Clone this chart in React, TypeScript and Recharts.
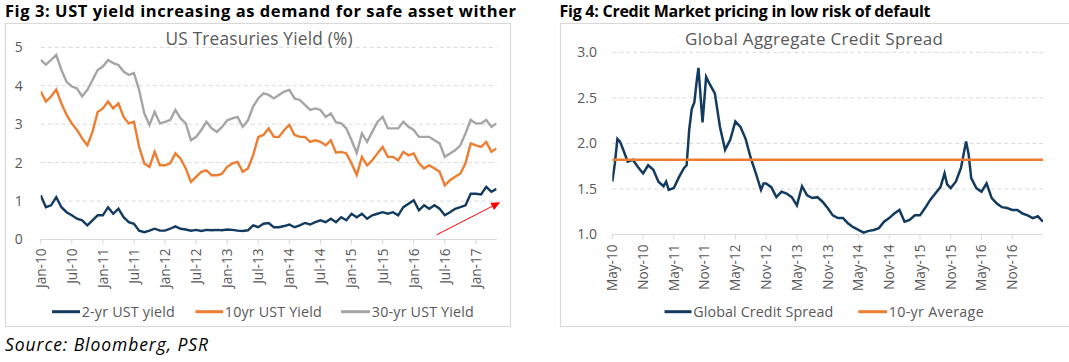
import React from 'react';
import { LineChart, Line, XAxis, YAxis, CartesianGrid, ReferenceLine } from 'recharts';

// ---------- Fig 3 data (monthly, month 0 = Jan-10) ----------
const ust2yr = [
  1.15, 0.84, 0.89, 1.1, 0.84, 0.71, 0.63, 0.54, 0.5, 0.37, 0.5, 0.63,
  0.63, 0.84, 0.67, 0.8, 0.58, 0.45, 0.41, 0.23, 0.19, 0.23, 0.28, 0.23,
  0.23, 0.28, 0.34, 0.28, 0.26, 0.23, 0.25, 0.22, 0.25, 0.24, 0.25, 0.24,
  0.26, 0.25, 0.23, 0.22, 0.24, 0.37, 0.32, 0.41, 0.43, 0.32, 0.32, 0.35,
  0.39, 0.32, 0.37, 0.43, 0.39, 0.45, 0.5, 0.45, 0.54, 0.45, 0.58, 0.5,
  0.67, 0.58, 0.67, 0.54, 0.63, 0.67, 0.71, 0.67, 0.71, 0.63, 0.84, 0.93,
  1.02, 0.76, 0.89, 0.8, 0.89, 0.8, 0.63, 0.71, 0.8, 0.84, 0.89, 1.19,
  1.19, 1.17, 1.37, 1.24, 1.32,
];
const ust10yr = [
  3.85, 3.59, 3.72, 3.9, 3.54, 3.24, 3.02, 2.85, 2.63, 2.45, 2.8, 3.32,
  3.41, 3.59, 3.41, 3.54, 3.19, 3.02, 3.06, 2.41, 1.98, 1.89, 2.28, 1.93,
  1.93, 1.98, 2.24, 2.1, 1.85, 1.5, 1.63, 1.76, 1.8, 1.67, 1.67, 1.71,
  1.89, 1.98, 2.02, 1.76, 1.85, 2.19, 2.67, 2.72, 2.89, 2.67, 2.67, 2.85,
  2.98, 2.72, 2.67, 2.67, 2.54, 2.58, 2.54, 2.45, 2.58, 2.26, 2.28, 2.24,
  1.98, 1.68, 2.15, 1.93, 2.06, 2.24, 2.41, 2.15, 2.15, 2.06, 2.28, 2.19,
  2.24, 1.98, 1.85, 1.93, 1.85, 1.76, 1.41, 1.54, 1.63, 1.71, 1.98, 2.5,
  2.45, 2.41, 2.54, 2.28, 2.37,
];
const ust30yr = [
  4.67, 4.55, 4.67, 4.8, 4.41, 4.1, 3.98, 3.93, 3.72, 3.89, 4.15, 4.41,
  4.5, 4.67, 4.59, 4.54, 4.37, 4.28, 4.33, 3.89, 3.28, 2.98, 3.32, 3.02,
  3.06, 3.11, 3.37, 3.15, 3.02, 2.58, 2.67, 2.85, 3.06, 2.89, 2.8, 2.93,
  3.1, 3.15, 3.19, 2.93, 3.1, 3.46, 3.67, 3.8, 3.76, 3.67, 3.76, 3.85,
  3.89, 3.67, 3.63, 3.5, 3.37, 3.41, 3.37, 3.19, 3.28, 3.05, 3.02, 2.89,
  2.58, 2.25, 2.76, 2.54, 2.8, 3.06, 3.19, 2.89, 2.89, 2.89, 3.06, 2.93,
  2.85, 2.67, 2.67, 2.67, 2.58, 2.5, 2.15, 2.24, 2.32, 2.45, 2.76, 3.11,
  3.02, 3.02, 3.11, 2.93, 3.02,
];
const ustTickMonths = [0, 6, 12, 18, 24, 30, 36, 42, 48, 54, 60, 66, 72, 78, 84];
const ustTickLabels = [
  'Jan-10', 'Jul-10', 'Jan-11', 'Jul-11', 'Jan-12', 'Jul-12', 'Jan-13', 'Jul-13',
  'Jan-14', 'Jul-14', 'Jan-15', 'Jul-15', 'Jan-16', 'Jul-16', 'Jan-17',
];
const ustYTicks = [0, 1, 2, 3, 4, 5];

// ---------- Fig 4 data (month 0 = May-10) ----------
const spreadMonths = [
  0, 0.5, 1, 1.5, 2, 3, 4, 5, 6, 7, 8, 9, 10, 10.5, 11, 12, 13, 14, 14.5, 15,
  15.5, 16, 16.5, 16.8, 17.6, 18.3, 19, 20, 21, 22, 23, 24, 25, 26, 27, 28, 29,
  29.5, 30, 31, 32, 33, 34, 35, 36, 37, 38, 39, 40, 41, 42, 43, 44, 45, 46, 47,
  48, 49, 50, 51, 52, 53, 54, 55, 56, 57, 58, 59, 60, 61, 62, 63, 64, 64.8,
  65.3, 66, 67, 68, 69, 69.5, 70, 71, 72, 73, 74, 75, 76, 77, 78, 79, 80, 81,
  82, 83, 84,
];
const spreadValues = [
  1.58, 1.78, 2.05, 2.02, 1.95, 1.8, 1.82, 1.74, 1.67, 1.76, 1.71, 1.58, 1.53,
  1.58, 1.49, 1.51, 1.63, 1.73, 1.76, 2.15, 2.38, 2.45, 2.7, 2.83, 2.23, 2.73,
  2.65, 2.55, 2.18, 1.93, 2.04, 2.24, 2.18, 2.05, 1.84, 1.67, 1.49, 1.56, 1.56,
  1.52, 1.41, 1.47, 1.45, 1.41, 1.32, 1.53, 1.43, 1.4, 1.41, 1.36, 1.29, 1.21,
  1.18, 1.18, 1.12, 1.08, 1.05, 1.02, 1.04, 1.05, 1.07, 1.14, 1.18, 1.23, 1.27,
  1.14, 1.16, 1.21, 1.21, 1.29, 1.38, 1.45, 1.52, 1.67, 1.55, 1.51, 1.58, 1.73,
  2.02, 1.88, 1.62, 1.51, 1.47, 1.56, 1.4, 1.34, 1.3, 1.29, 1.27, 1.27, 1.23,
  1.21, 1.18, 1.2, 1.14,
];
const spreadAverage = 1.82;
const spreadTickMonths = [0, 6, 12, 18, 24, 30, 36, 42, 48, 54, 60, 66, 72, 78];
const spreadTickLabels = [
  'May-10', 'Nov-10', 'May-11', 'Nov-11', 'May-12', 'Nov-12', 'May-13', 'Nov-13',
  'May-14', 'Nov-14', 'May-15', 'Nov-15', 'May-16', 'Nov-16',
];
const spreadYTicks = [1.0, 1.5, 2.0, 2.5, 3.0];

// ---------- styles ----------
const FONT = '"Open Sans", Lato, sans-serif';
const NAVY = '#133B5F';
const ORANGE = '#ED7D31';
const GRAY = '#A5A5A5';
const AXIS_TEXT = '#595959';
const GRID = '#D9D9D9';

const ustData = ust2yr.map((v, i) => ({ m: i, y2: v, y10: ust10yr[i], y30: ust30yr[i] }));
const spreadData = spreadMonths.map((m, i) => ({ m, v: spreadValues[i], avg: spreadAverage }));

const makeRotTick = (ticks: number[], labels: string[]) => (props: any) => {
  const { x, y, payload } = props;
  const idx = ticks.indexOf(payload.value);
  return (
    <text
      x={x}
      y={y}
      transform={`rotate(-90 ${x} ${y})`}
      textAnchor="end"
      dy="0.36em"
      fill={AXIS_TEXT}
      fontSize={13.6}
      fontFamily={FONT}
    >
      {labels[idx]}
    </text>
  );
};

const ArrowShape = (p: any) => {
  const { x1, y1, x2, y2 } = p;
  if ([x1, y1, x2, y2].some((v) => typeof v !== 'number' || isNaN(v))) return null;
  const dx = x2 - x1;
  const dy = y2 - y1;
  const len = Math.sqrt(dx * dx + dy * dy);
  const ux = dx / len;
  const uy = dy / len;
  const hl = 9;
  const hw = 4;
  const bx = x2 - ux * hl;
  const by = y2 - uy * hl;
  const pts = `${x2},${y2} ${bx - uy * hw},${by + ux * hw} ${bx + uy * hw},${by - ux * hw}`;
  return (
    <g>
      <line x1={x1} y1={y1} x2={bx} y2={by} stroke="#FF0000" strokeWidth={1} />
      <polygon points={pts} fill="#FF0000" />
    </g>
  );
};

const tickStyle = { fill: AXIS_TEXT, fontSize: 14, fontFamily: FONT };

const Txt = (p: any) => (
  <text
    x={p.x}
    y={p.y}
    dy={p.dy}
    textAnchor={p.anchor || 'start'}
    fontFamily={FONT}
    fontSize={p.size}
    fontWeight={p.weight}
    fontStyle={p.italic ? 'italic' : undefined}
    fill={p.fill}
    textLength={p.len}
    lengthAdjust="spacing"
  >
    {p.children}
  </text>
);

export default function App() {
  return (
    <div
      style={{
        position: 'absolute',
        left: 0,
        top: 0,
        width: 1069,
        height: 362,
        background: '#fff',
        overflow: 'hidden',
        fontFamily: FONT,
      }}
    >
      {/* Fig 3 chart */}
      <div style={{ position: 'absolute', left: 5, top: 23 }}>
        <LineChart
          width={506}
          height={304}
          data={ustData}
          margin={{ top: 24.3, right: 14.4, bottom: 0, left: 0 }}
        >
          <CartesianGrid vertical={false} stroke={GRID} strokeDasharray="4 3" />
          <XAxis
            type="number"
            dataKey="m"
            domain={[0, 88]}
            ticks={ustTickMonths}
            interval={0}
            allowDataOverflow
            height={87.5}
            tickSize={5}
            tickMargin={4}
            axisLine={{ stroke: GRID }}
            tickLine={{ stroke: GRID }}
            tick={makeRotTick(ustTickMonths, ustTickLabels)}
          />
          <YAxis
            type="number"
            domain={[0, 5]}
            ticks={ustYTicks}
            interval={0}
            width={35.7}
            axisLine={false}
            tickLine={false}
            tickSize={6}
            tickMargin={12}
            tick={tickStyle}
          />
          <Line dataKey="y2" stroke={NAVY} strokeWidth={2.4} dot={false} isAnimationActive={false} />
          <Line dataKey="y10" stroke={ORANGE} strokeWidth={2.4} dot={false} isAnimationActive={false} />
          <Line dataKey="y30" stroke={GRAY} strokeWidth={2.4} dot={false} isAnimationActive={false} />
          <ReferenceLine
            segment={[{ x: 76.4, y: 0.12 }, { x: 88.7, y: 0.97 }]}
            ifOverflow="visible"
            shape={ArrowShape}
          />
        </LineChart>
      </div>

      {/* Fig 4 chart */}
      <div style={{ position: 'absolute', left: 560, top: 23 }}>
        <LineChart
          width={510}
          height={304}
          data={spreadData}
          margin={{ top: 29.3, right: 27, bottom: 0, left: 0 }}
        >
          <CartesianGrid vertical={false} stroke={GRID} strokeDasharray="4 3" />
          <XAxis
            type="number"
            dataKey="m"
            domain={[0, 84]}
            ticks={spreadTickMonths}
            interval={0}
            allowDataOverflow
            height={92.5}
            tickSize={5}
            tickMargin={5}
            axisLine={{ stroke: GRID }}
            tickLine={{ stroke: GRID }}
            tick={makeRotTick(spreadTickMonths, spreadTickLabels)}
          />
          <YAxis
            type="number"
            domain={[1, 3]}
            ticks={spreadYTicks}
            interval={0}
            width={52.3}
            axisLine={false}
            tickLine={false}
            tickSize={6}
            tickMargin={9.3}
            tick={tickStyle}
            tickFormatter={(v: number) => v.toFixed(1)}
          />
          <Line dataKey="v" stroke={NAVY} strokeWidth={2.5} dot={false} isAnimationActive={false} />
          <Line dataKey="avg" stroke={ORANGE} strokeWidth={2.5} dot={false} isAnimationActive={false} />
        </LineChart>
      </div>

      {/* Text, frames, legends */}
      <svg
        width={1069}
        height={362}
        style={{ position: 'absolute', left: 0, top: 0, pointerEvents: 'none' }}
      >
        <rect x={5.5} y={23.5} width={505} height={303} fill="none" stroke={GRID} strokeWidth={1.2} />
        <rect x={560.5} y={23.5} width={520} height={303} fill="none" stroke={GRID} strokeWidth={1.2} />

        <Txt x={5} y={17.3} size={16.5} weight="bold" fill="#000" len={511}>
          Fig 3: UST yield increasing as demand for safe asset wither
        </Txt>
        <Txt x={559.5} y={17.3} size={16} weight="bold" fill="#000" len={371}>
          Fig 4: Credit Market pricing in low risk of default
        </Txt>

        <Txt x={165.5} y={45} size={17.3} fill={AXIS_TEXT} len={187}>
          US Treasuries Yield (%)
        </Txt>
        <Txt x={685} y={45} size={17} fill={AXIS_TEXT} len={258}>
          Global Aggregate Credit Spread
        </Txt>

        {/* Fig 3 legend */}
        <line x1={52} y1={311.7} x2={80} y2={311.7} stroke={NAVY} strokeWidth={3} />
        <Txt x={81.7} y={311.7} dy="0.36em" size={14.3} fill={AXIS_TEXT} len={93}>2-yr UST yield</Txt>
        <line x1={195.4} y1={311.7} x2={223} y2={311.7} stroke={ORANGE} strokeWidth={3} />
        <Txt x={224.8} y={311.7} dy="0.36em" size={14.3} fill={AXIS_TEXT} len={97}>10yr UST Yield</Txt>
        <line x1={341} y1={311.7} x2={370} y2={311.7} stroke={GRAY} strokeWidth={3} />
        <Txt x={371.8} y={311.7} dy="0.36em" size={14.3} fill={AXIS_TEXT} len={102}>30-yr UST Yield</Txt>

        {/* Fig 4 legend */}
        <line x1={664.5} y1={311.7} x2={691.5} y2={311.7} stroke={NAVY} strokeWidth={3} />
        <Txt x={693.2} y={311.7} dy="0.36em" size={14.3} fill={AXIS_TEXT} len={140}>Global Credit Spread</Txt>
        <line x1={858.3} y1={311.7} x2={887} y2={311.7} stroke={ORANGE} strokeWidth={3} />
        <Txt x={888.7} y={311.7} dy="0.36em" size={14.3} fill={AXIS_TEXT} len={95}>10-yr Average</Txt>

        <Txt x={5} y={350.7} size={17.5} italic fill="#000" len={203}>
          Source: Bloomberg, PSR
        </Txt>
      </svg>
    </div>
  );
}
